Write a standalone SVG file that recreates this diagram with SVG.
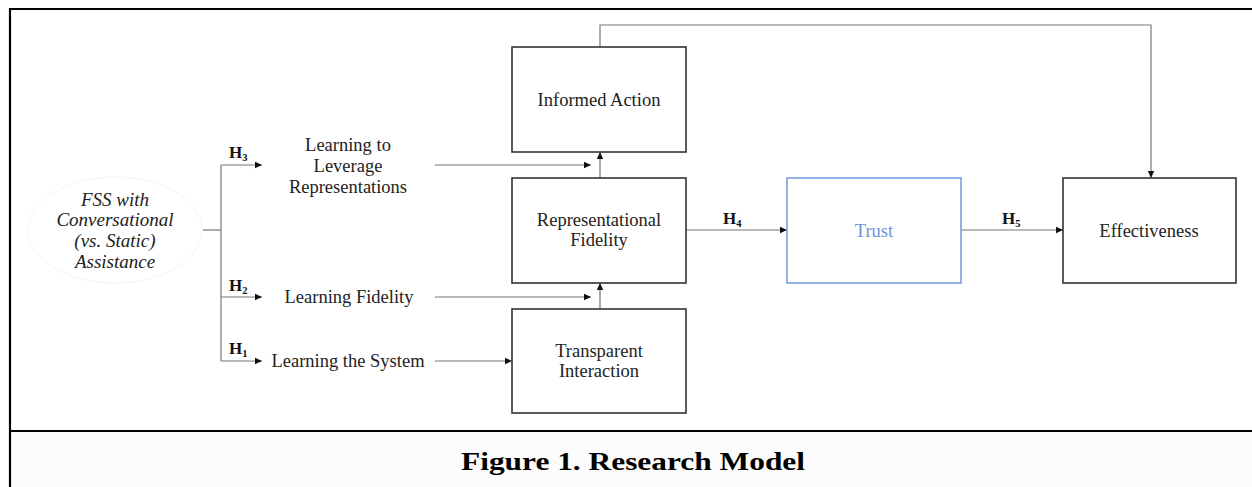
<svg xmlns="http://www.w3.org/2000/svg" width="1252" height="487" viewBox="0 0 1252 487">
<style>
.frame{stroke:#000;stroke-width:2.2;fill:none}
.box{fill:#fff;stroke:#333;stroke-width:1.6}
.blue{fill:#fff;stroke:#7a9ee0;stroke-width:1.6}
.ln{stroke:#777;stroke-width:1.2;fill:none}
.t{font-family:"Liberation Serif","DejaVu Serif",serif;font-size:18.5px;fill:#222;text-anchor:middle}
.it{font-family:"Liberation Serif","DejaVu Serif",serif;font-size:19px;font-style:italic;fill:#222;text-anchor:middle}
.h{font-family:"Liberation Serif","DejaVu Serif",serif;font-size:17px;font-weight:bold;fill:#111}
.sub{font-size:10.5px}
</style>
<defs>
<marker id="ar" markerWidth="8" markerHeight="8" refX="7" refY="4" orient="auto" markerUnits="userSpaceOnUse">
<path d="M0,0.8 L7,4 L0,7.2 Z" fill="#111"/>
</marker>
</defs>
<rect x="0" y="0" width="1252" height="487" fill="#fff"/>
<rect x="11" y="432" width="1241" height="55" fill="#fcfcfc"/>
<g id="frame">
<line class="frame" x1="10" y1="9" x2="1252" y2="9"/>
<line class="frame" x1="10" y1="8" x2="10" y2="487"/>
<line class="frame" x1="10" y1="431" x2="1252" y2="431"/>
</g>
<g id="fss">
<ellipse cx="115" cy="230" rx="87" ry="53" fill="#fff" stroke="#f4f4f4" stroke-width="1"/>
<text class="it" x="115" y="206">FSS with</text>
<text class="it" x="115" y="226">Conversational</text>
<text class="it" x="115" y="247">(vs. Static)</text>
<text class="it" x="115" y="268">Assistance</text>
</g>
<g id="connectors">
<polyline class="ln" points="203,230 221,230"/>
<polyline class="ln" points="221,165 221,361"/>
<polyline class="ln" points="221,165 262,165" marker-end="url(#ar)"/>
<polyline class="ln" points="221,297 262,297" marker-end="url(#ar)"/>
<polyline class="ln" points="221,361 262,361" marker-end="url(#ar)"/>
<polyline class="ln" points="435,165 591,165" marker-end="url(#ar)"/>
<polyline class="ln" points="435,297 591,297" marker-end="url(#ar)"/>
<polyline class="ln" points="435,361 512,361" marker-end="url(#ar)"/>
<polyline class="ln" points="600,178 600,152" marker-end="url(#ar)"/>
<polyline class="ln" points="600,309 600,283" marker-end="url(#ar)"/>
<polyline class="ln" points="686,230 787,230" marker-end="url(#ar)"/>
<polyline class="ln" points="961,230 1063,230" marker-end="url(#ar)"/>
<polyline class="ln" points="600,47 600,25 1151,25 1151,178" marker-end="url(#ar)"/>
</g>
<g id="hlabels">
<text class="h" x="229" y="158">H<tspan class="sub" dy="3">3</tspan></text>
<text class="h" x="229" y="291">H<tspan class="sub" dy="3">2</tspan></text>
<text class="h" x="229" y="354">H<tspan class="sub" dy="3">1</tspan></text>
<text class="h" x="723" y="224">H<tspan class="sub" dy="3">4</tspan></text>
<text class="h" x="1002" y="224">H<tspan class="sub" dy="3">5</tspan></text>
</g>
<g id="learn-leverage">
<text class="t" x="348" y="151">Learning to</text>
<text class="t" x="348" y="172">Leverage</text>
<text class="t" x="348" y="193">Representations</text>
</g>
<g id="learn-fidelity">
<text class="t" x="349" y="303">Learning Fidelity</text>
</g>
<g id="learn-system">
<text class="t" x="348" y="367">Learning the System</text>
</g>
<g id="informed-action">
<rect class="box" x="512" y="47" width="174" height="105"/>
<text class="t" x="599" y="106">Informed Action</text>
</g>
<g id="rep-fidelity">
<rect class="box" x="512" y="178" width="174" height="105"/>
<text class="t" x="599" y="226">Representational</text>
<text class="t" x="599" y="246">Fidelity</text>
</g>
<g id="transparent">
<rect class="box" x="512" y="309" width="174" height="104"/>
<text class="t" x="599" y="357">Transparent</text>
<text class="t" x="599" y="377">Interaction</text>
</g>
<g id="trust">
<rect class="blue" x="787" y="178" width="174" height="105"/>
<text class="t" x="874" y="237" style="fill:#6f93d8">Trust</text>
</g>
<g id="effectiveness">
<rect class="box" x="1063" y="178" width="173" height="105"/>
<text class="t" x="1149" y="237">Effectiveness</text>
</g>
<g id="caption">
<text x="633" y="470" text-anchor="middle" font-family="'Liberation Serif','DejaVu Serif',serif" font-size="26" font-weight="bold" fill="#000" textLength="344" lengthAdjust="spacingAndGlyphs">Figure 1. Research Model</text>
</g>
</svg>
